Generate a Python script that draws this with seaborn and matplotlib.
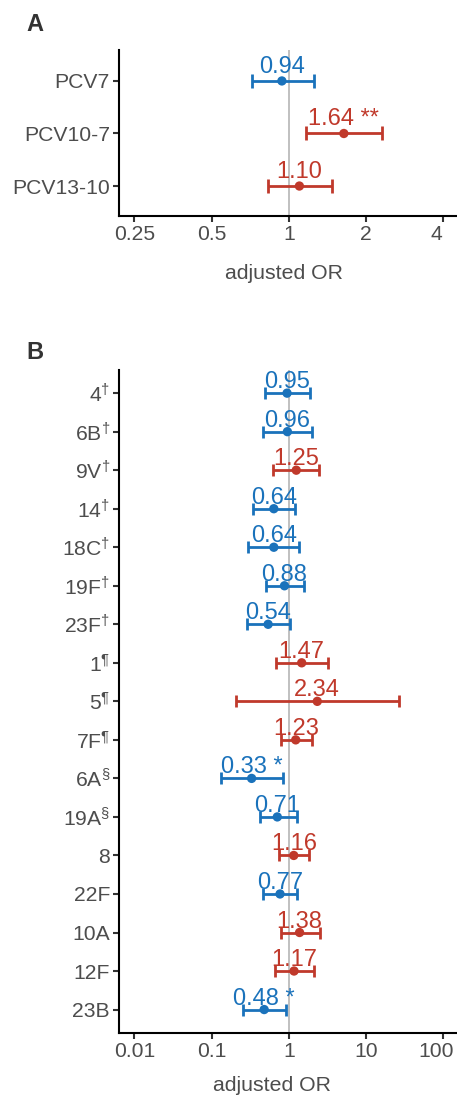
import numpy as np
import seaborn as sns
import matplotlib.pyplot as plt
import matplotlib.transforms as mtransforms

# Panel A: vaccine periods
periods = ["PCV7", "PCV10-7", "PCV13-10"]
or_a = [0.94, 1.64, 1.10]
lo_a = [0.72, 1.17, 0.83]
hi_a = [1.25, 2.31, 1.47]
stars_a = ["", "**", ""]

# Panel B: serotypes
serotypes = ["$4^{†}$", "$6B^{†}$", "$9V^{†}$", "$14^{†}$", "$18C^{†}$", "$19F^{†}$", "$23F^{†}$",
             "$1^{¶}$", "$5^{¶}$", "$7F^{¶}$", "$6A^{§}$", "$19A^{§}$",
             "8", "22F", "10A", "12F", "23B"]
or_b = [0.95, 0.96, 1.25, 0.64, 0.64, 0.88, 0.54, 1.47, 2.34, 1.23, 0.33, 0.71,
        1.16, 0.77, 1.38, 1.17, 0.48]
lo_b = [0.49, 0.47, 0.63, 0.34, 0.30, 0.51, 0.29, 0.68, 0.21, 0.80, 0.134, 0.42,
        0.75, 0.47, 0.80, 0.66, 0.255]
hi_b = [1.89, 1.99, 2.47, 1.22, 1.37, 1.58, 1.05, 3.27, 27.2, 1.99, 0.85, 1.26,
        1.83, 1.28, 2.52, 2.13, 0.92]
stars_b = ["", "", "", "", "", "", "", "", "", "", "*", "", "", "", "", "", "*"]

blue = "#1a72bb"
red = "#c0392b"
grey = "#4d4d4d"

sns.set_theme(style="ticks")
plt.rcParams["font.family"] = ["Liberation Sans", "DejaVu Sans"]
plt.rcParams["mathtext.fontset"] = "custom"
plt.rcParams["mathtext.rm"] = "Liberation Sans"
plt.rcParams["mathtext.it"] = "Liberation Sans"
plt.rcParams["mathtext.default"] = "regular"

fig = plt.figure(figsize=(4.57, 10.98), dpi=100)
ax_a = fig.add_axes([0.2604, 0.8033, 0.743, 0.1512])
ax_b = fig.add_axes([0.2604, 0.0595, 0.743, 0.6035])


def forest(ax, labels, est, lo, hi, stars, capsize, txt_size, txt_off):
    pos = np.arange(len(labels))
    cols = [red if v > 1 else blue for v in est]
    ax.axvline(1, color="#bbbbbb", lw=1.3, zorder=0)
    for i in range(len(labels)):
        ax.errorbar(est[i], pos[i], xerr=[[est[i] - lo[i]], [hi[i] - est[i]]],
                    fmt="none", ecolor=cols[i], elinewidth=2, capsize=capsize,
                    capthick=2, zorder=2)
        txt = f"{est[i]:.2f}" + (" " + stars[i] if stars[i] else "")
        ax.annotate(txt, (est[i], pos[i]), xytext=(0, txt_off), textcoords="offset points",
                    ha="center", va="baseline", color=cols[i], fontsize=txt_size, zorder=3)
    sns.scatterplot(x=est, y=pos, hue=cols, palette={blue: blue, red: red},
                    s=45, edgecolor="none", legend=False, ax=ax, zorder=4)
    ax.set_yticks(pos)
    ax.set_yticklabels(labels)
    for t in ax.get_yticklabels():
        t.set_va("center_baseline")
        if "^" in t.get_text():
            # superscripted labels sit a little low, lift them to match the plain ones
            t.set_transform(t.get_transform() +
                            mtransforms.ScaledTranslation(0, 2 / 100, fig.dpi_scale_trans))
    ax.set_ylabel("")
    sns.despine(ax=ax)
    for s in ["left", "bottom"]:
        ax.spines[s].set_color("black")
        ax.spines[s].set_linewidth(1.5)
    ax.tick_params(axis="both", colors="#333333", labelcolor=grey, labelsize=15.2,
                   length=4, width=1.5, pad=2.5)
    ax.tick_params(axis="x", which="minor", length=0)


forest(ax_a, periods, or_a, lo_a, hi_a, stars_a, 5, 17, 5.8)
ax_a.set_ylim(2.57, -0.59)
ax_a.set_xscale("log", base=2)
ax_a.set_xlim(2 ** -2.2, 2 ** 2.2)
ax_a.set_xticks([0.25, 0.5, 1, 2, 4])
ax_a.set_xticklabels(["0.25", "0.5", "1", "2", "4"])
ax_a.set_xlabel("adjusted OR", fontsize=15.3, color=grey)
ax_a.xaxis.set_label_coords(0.486, -0.29)

forest(ax_b, serotypes, or_b, lo_b, hi_b, stars_b, 4, 17, 3.6)
ax_b.set_ylim(len(serotypes) - 0.4, -0.6)
ax_b.set_xscale("log")
ax_b.set_xlim(10 ** -2.2, 10 ** 2.2)
ax_b.set_xticks([0.01, 0.1, 1, 10, 100])
ax_b.set_xticklabels(["0.01", "0.1", "1", "10", "100"])
ax_b.set_xlabel("adjusted OR", fontsize=15.3, color=grey)
ax_b.xaxis.set_label_coords(0.452, -0.066)

# keep the last tick label inside the figure
for ax in [ax_a, ax_b]:
    last = ax.get_xticklabels()[-1]
    last.set_transform(last.get_transform() +
                       mtransforms.ScaledTranslation(-7 / 100, 0, fig.dpi_scale_trans))

fig.text(0.058, 1 - 13 / 1098, "A", fontsize=17, fontweight="bold", color="#333333", va="top")
fig.text(0.058, 1 - 341 / 1098, "B", fontsize=17, fontweight="bold", color="#333333", va="top")

fig.savefig("out.png", dpi=100)
